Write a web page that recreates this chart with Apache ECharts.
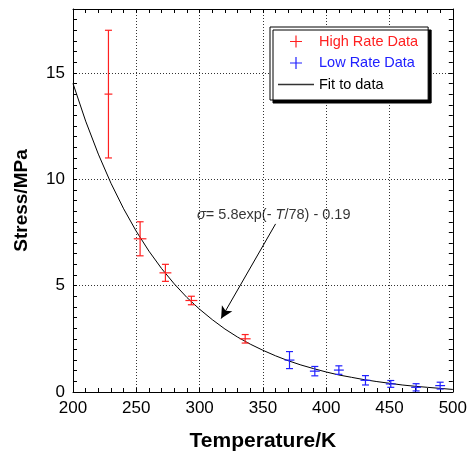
<!DOCTYPE html>
<html><head><meta charset="utf-8">
<script src="https://cdn.jsdelivr.net/npm/echarts@6/dist/echarts.min.js"></script>
<style>html,body{margin:0;padding:0;background:#fff}#c{width:470px;height:457px}</style>
</head><body><div id="c"></div>
<script>
// ---- data ----
const highT = [228, 253, 273, 293.5, 336];
const highS = [14.0, 7.2, 5.6, 4.3, 2.5];
const highErr = [3.0, 0.8, 0.4, 0.2, 0.2];
const highTErr = [3.1, 5.0, 4.7, 4.7, 4.3];
const lowT = [371, 391, 410, 431, 451, 471, 490];
const lowS = [1.5, 0.98, 1.03, 0.55, 0.38, 0.22, 0.3];
const lowErr = [0.4, 0.22, 0.2, 0.22, 0.16, 0.17, 0.16];
const lowTErr = [3.9, 3.9, 3.9, 3.9, 3.9, 3.9, 3.9];
const fitT = [200,210,220,230,240,250,260,270,280,290,300,310,320,330,340,350,360,370,380,390,400,410,420,430,440,450,460,470,480,490,500];
const fitS = [14.50,12.73,11.18,9.81,8.61,7.55,6.62,5.80,5.08,4.44,3.89,3.40,2.96,2.58,2.25,1.96,1.70,1.47,1.27,1.10,0.94,0.80,0.69,0.58,0.49,0.41,0.33,0.27,0.22,0.17,0.12];
const annotPos = [298, 8.31];
const arrowFrom = [360, 7.9];
const arrowTo = [317, 3.45];
const seriesNames = ['High Rate Data', 'Low Rate Data', 'Fit to data'];

const FONT = '"Liberation Sans", Arial, Helvetica, sans-serif';
const RED = '#ff2020', BLUE = '#2020ff';
const plusIcon = 'path://M4.5,0 H5.5 V4.5 H10 V5.5 H5.5 V10 H4.5 V5.5 H0 V4.5 H4.5 Z';
const lineIcon = 'path://M0,0 H36 V1.5 H0 Z';

function errRender(params, api) {
  const t = api.value(0), s = api.value(1), e = api.value(2), dt = api.value(3);
  const top = api.coord([t, s + e]), bot = api.coord([t, s - e]);
  const l = api.coord([t - dt, s]), r = api.coord([t + dt, s]);
  const cap = 3.5;
  const st = { stroke: api.visual('color'), lineWidth: 1.2, fill: null };
  const ln = (x1, y1, x2, y2) => ({ type: 'line', shape: { x1, y1, x2, y2 }, style: st });
  return { type: 'group', children: [
    ln(top[0], top[1], bot[0], bot[1]),
    ln(top[0] - cap, top[1], top[0] + cap, top[1]),
    ln(bot[0] - cap, bot[1], bot[0] + cap, bot[1]),
    ln(l[0], l[1], r[0], r[1])
  ]};
}

const highData = highT.map((t, i) => [t, highS[i], highErr[i], highTErr[i]]);
const lowData = lowT.map((t, i) => [t, lowS[i], lowErr[i], lowTErr[i]]);
const fitData = fitT.map((t, i) => [t, fitS[i]]);

const gridLine = { show: true, lineStyle: { color: '#333', type: [1, 2], width: 1 } };
const axLine = { show: true, onZero: false, lineStyle: { color: '#000', width: 1 } };
const tick = { show: true, inside: true, length: 4, lineStyle: { color: '#000' } };
const minorX = { show: true, splitNumber: 5, length: 4, lineStyle: { color: '#000' } };
const minorY = { show: true, splitNumber: 10, length: 4, lineStyle: { color: '#000' } };

const chart = echarts.init(document.getElementById('c'), null, { renderer: 'canvas' });
chart.setOption({
  animation: false,
  backgroundColor: '#fff',
  grid: { left: 73, right: 15, top: 9, bottom: 65 },
  legend: {
    left: 270, top: 27, orient: 'vertical',
    padding: [7, 10, 8, 8], itemGap: 6.5, itemWidth: 36, itemHeight: 12,
    backgroundColor: '#fff', borderColor: '#000', borderWidth: 1,
    shadowColor: '#000', shadowBlur: 0, shadowOffsetX: 3, shadowOffsetY: 3,
    textStyle: { fontFamily: FONT, fontSize: 14.5 },
    data: [
      { name: seriesNames[0], icon: plusIcon, textStyle: { color: RED } },
      { name: seriesNames[1], icon: plusIcon, textStyle: { color: BLUE } },
      { name: seriesNames[2], icon: lineIcon, itemStyle: { color: '#333' }, textStyle: { color: '#000' } }
    ]
  },
  xAxis: [{
    type: 'value', min: 200, max: 500, interval: 50, position: 'bottom',
    name: 'Temperature/K', nameLocation: 'middle', nameGap: 39,
    nameTextStyle: { fontFamily: FONT, fontSize: 21, fontWeight: 'bold', color: '#000' },
    axisLine: axLine, axisTick: tick, minorTick: minorX,
    axisLabel: { fontFamily: FONT, fontSize: 17, color: '#000', margin: 8 },
    splitLine: gridLine
  }, {
    type: 'value', min: 200, max: 500, interval: 50, position: 'top',
    axisLine: axLine, axisTick: tick, minorTick: minorX,
    axisLabel: { show: false }, splitLine: { show: false }
  }],
  yAxis: [{
    type: 'value', min: 0, max: 18, interval: 5, position: 'left',
    name: 'Stress/MPa', nameLocation: 'middle', nameGap: 42, nameRotate: 90,
    nameTextStyle: { fontFamily: FONT, fontSize: 19, fontWeight: 'bold', color: '#000' },
    axisLine: axLine, axisTick: tick, minorTick: minorY,
    axisLabel: { fontFamily: FONT, fontSize: 17, color: '#000', margin: 8, showMaxLabel: false },
    splitLine: gridLine
  }, {
    type: 'value', min: 0, max: 18, interval: 5, position: 'right',
    axisLine: axLine, axisTick: tick, minorTick: minorY,
    axisLabel: { show: false }, splitLine: { show: false }
  }],
  series: [
    {
      name: seriesNames[2], type: 'line', data: fitData, symbol: 'none', showSymbol: false,
      lineStyle: { color: '#000', width: 1 }, itemStyle: { color: '#333' }, z: 3
    },
    {
      name: seriesNames[0], type: 'custom', renderItem: errRender, data: highData,
      itemStyle: { color: RED }, encode: { x: 0, y: 1 }, z: 4
    },
    {
      name: seriesNames[1], type: 'custom', renderItem: errRender, data: lowData,
      itemStyle: { color: BLUE }, encode: { x: 0, y: 1 }, z: 4
    },
    {
      name: 'annotation', type: 'scatter', data: [annotPos], symbolSize: 0, silent: true,
      label: {
        show: true, position: 'right', distance: 0,
        formatter: '{i|σ}= 5.8exp(- {i|T}/78) - 0.19',
        fontFamily: FONT, fontSize: 14.5, color: '#000',
        rich: { i: { fontStyle: 'italic', fontFamily: FONT, fontSize: 14.5, color: '#000' } }
      },
      markLine: {
        silent: true, symbol: ['none', 'arrow'], symbolSize: [9, 12],
        lineStyle: { color: '#000', width: 1, type: 'solid' }, label: { show: false },
        data: [[{ coord: arrowFrom }, { coord: arrowTo }]]
      },
      z: 5
    }
  ]
});
</script>
</body></html>
